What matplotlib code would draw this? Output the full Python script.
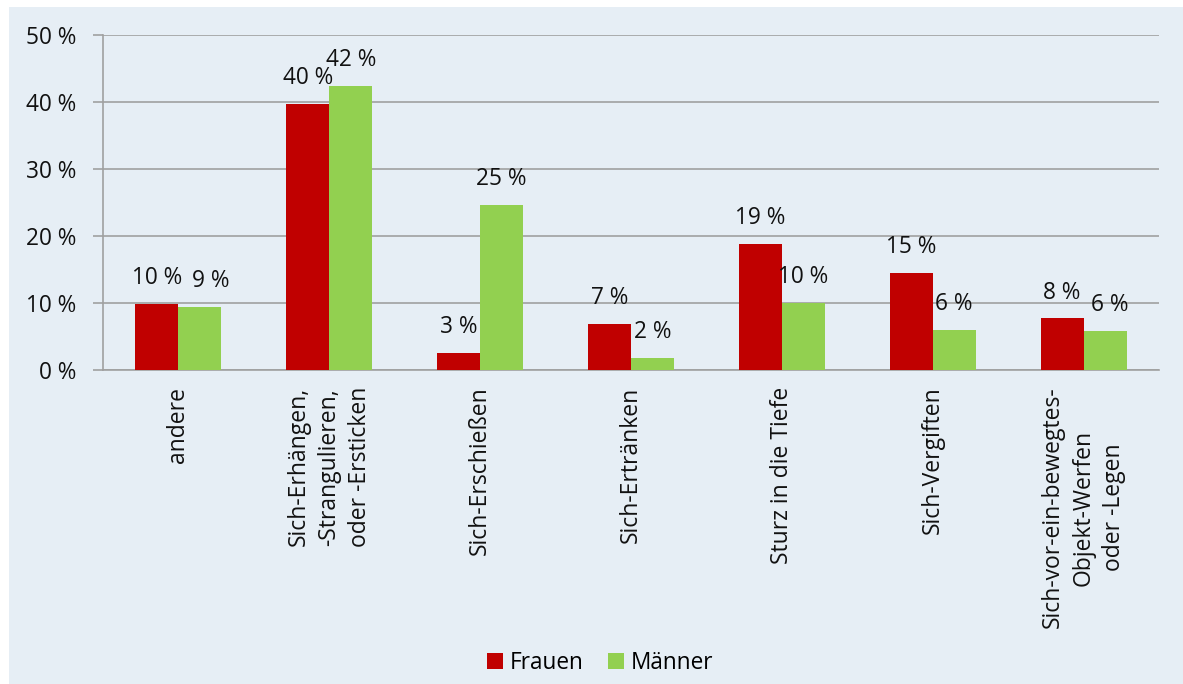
import matplotlib
matplotlib.use("Agg")
import matplotlib.pyplot as plt
import numpy as np
from matplotlib.patches import Rectangle

plt.rcParams['font.family'] = ['Open Sans', 'DejaVu Sans']

categories = ["andere",
              "Sich-Erhängen,\n-Strangulieren,\noder -Ersticken",
              "Sich-Erschießen",
              "Sich-Ertränken",
              "Sturz in die Tiefe",
              "Sich-Vergiften",
              "Sich-vor-ein-bewegtes-\nObjekt-Werfen\noder -Legen"]
frauen = [9.9, 39.7, 2.6, 6.9, 18.8, 14.5, 7.7]
maenner = [9.4, 42.4, 24.6, 1.8, 10.0, 6.0, 5.8]
frauen_labels = ["10 %", "40 %", "3 %", "7 %", "19 %", "15 %", "8 %"]
maenner_labels = ["9 %", "42 %", "25 %", "2 %", "10 %", "6 %", "6 %"]
yticks = [0, 10, 20, 30, 40, 50]

bg = "#E6EEF5"
red = "#C00000"
green = "#92D050"
grid = "#A0A0A0"
txt = "#111111"

W, H = 1183, 684
fig = plt.figure(figsize=(W/100, H/100), dpi=100, facecolor="white")
fig.patches.append(Rectangle((9/W, 0), 1 - 9/W, 1 - 7/H, transform=fig.transFigure,
                             facecolor=bg, edgecolor="none", zorder=-10))
ax = fig.add_axes([103/W, 1 - 370/H, (1159 - 103)/W, (370 - 35)/H])
ax.set_facecolor("none")

x = np.arange(len(categories))
bw = 0.285
b1 = ax.bar(x - bw/2, frauen, bw, color=red, label="Frauen", zorder=3)
b2 = ax.bar(x + bw/2, maenner, bw, color=green, label="Männer", zorder=3)

fs = 16.3
ann_f, ann_m = [], []
for rect, lab in zip(b1, frauen_labels):
    ann_f.append(ax.annotate(lab, (rect.get_x() + rect.get_width()/2, rect.get_height()),
                 xytext=(0, 10), textcoords="offset points", ha="center", va="bottom",
                 fontsize=fs, color=txt))
for rect, lab in zip(b2, maenner_labels):
    ann_m.append(ax.annotate(lab, (rect.get_x() + rect.get_width()/2, rect.get_height()),
                 xytext=(0, 10), textcoords="offset points", ha="center", va="bottom",
                 fontsize=fs, color=txt))

ax.set_xlim(-0.5, len(categories) - 0.5)
ax.set_ylim(0, 50)
ax.set_yticks(yticks)
ax.set_yticklabels([f"{v} %" for v in yticks], fontsize=fs, color=txt)
ax.set_xticks(x)
ax.set_xticklabels(categories, rotation=90, ha="center", va="top", multialignment="center",
                   fontsize=16.5, color=txt, linespacing=1.35)
ax.tick_params(axis="x", length=0, pad=12)
ax.tick_params(axis="y", length=7, color=grid, width=1.2, pad=12)
ax.yaxis.grid(True, color=grid, linewidth=1.2, zorder=0)
for s in ["top", "right"]:
    ax.spines[s].set_visible(False)
ax.spines["left"].set_color(grid)
ax.spines["bottom"].set_color(grid)
ax.spines["left"].set_linewidth(1.2)
ax.spines["bottom"].set_linewidth(1.2)
ax.set_axisbelow(True)

# push nearly level, crowded labels apart (like the spreadsheet does)
fig.canvas.draw()
r = fig.canvas.get_renderer()
for af, am in zip(ann_f, ann_m):
    ef = af.get_window_extent(r)
    em = am.get_window_extent(r)
    if abs(ef.y0 - em.y0) < 15:
        shift = ef.x1 + 10 - em.x0
        if shift > 0:
            am.set_position((shift * 72 / fig.dpi, 10))

fig.legend(handles=[b1, b2], labels=["Frauen", "Männer"], loc="center",
           bbox_to_anchor=(600/W, 1 - 663/H), ncol=2, frameon=False, fontsize=fs,
           handlelength=0.7, handleheight=0.7, handletextpad=0.3, columnspacing=1.1)

fig.savefig("out.png", dpi=100, facecolor="white")
